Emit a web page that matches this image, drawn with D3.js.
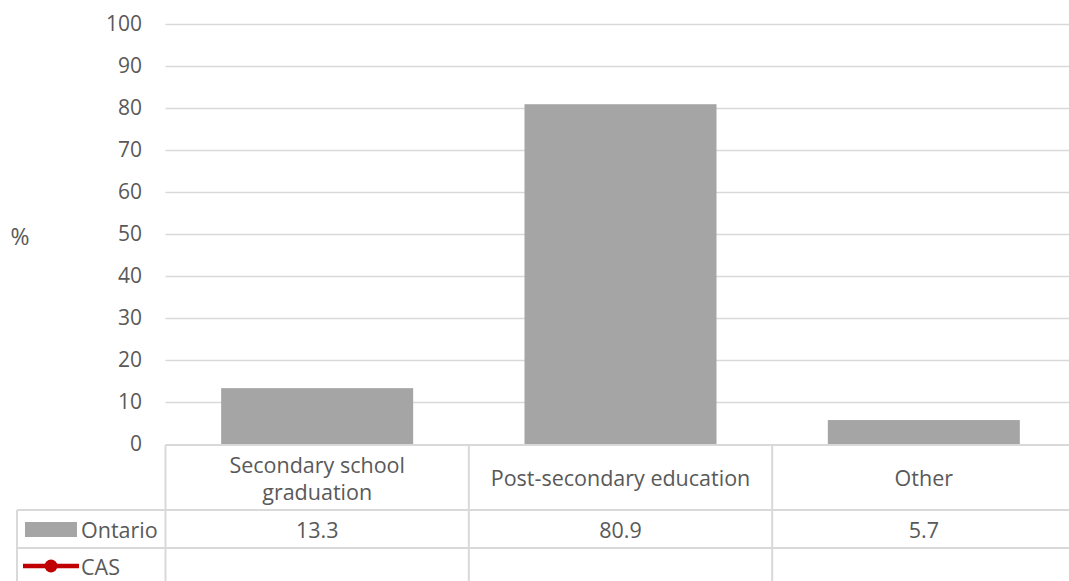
<!DOCTYPE html>
<html><head><meta charset="utf-8">
<script src="https://cdn.jsdelivr.net/npm/d3@7"></script>
<style>
html,body{margin:0;padding:0;background:#fff;}
svg{display:block;}
text{font-family:"Open Sans",sans-serif;fill:#595959;}
</style></head>
<body>
<svg id="chart" width="1069" height="581"></svg>
<script>
const categories = [["Secondary school","graduation"],["Post-secondary education"],["Other"]];
const categoryKeys = ["Secondary school graduation","Post-secondary education","Other"];
const ontarioValues = [13.3, 80.9, 5.7];
const casValues = [null, null, null];
const seriesNames = ["Ontario","CAS"];
const yTicks = [0,10,20,30,40,50,60,70,80,90,100];
const yLabel = "%";

const svg = d3.select("#chart");
const FS = 21.5;
const grid = "#d9d9d9";
const plotL = 165.5, plotR = 1075.5, tableL = 17;
const y = d3.scaleLinear().domain([0,100]).range([444,24]);
const col = d3.scaleBand().domain(categoryKeys).range([plotL, plotR]).padding(0);
const x = d3.scaleBand().domain(categoryKeys).range([plotL, plotR]).paddingInner(0.367).paddingOuter(0.1835);

// gridlines
svg.append("g").selectAll("line").data(yTicks.filter(d=>d>0)).join("line")
  .attr("x1", plotL).attr("x2", plotR)
  .attr("y1", d=>Math.round(y(d))+0.5).attr("y2", d=>Math.round(y(d))+0.5)
  .attr("stroke", grid).attr("stroke-width", 1.4);

// y axis labels
const yAxis = d3.axisLeft(y).tickValues(yTicks).tickSize(0).tickPadding(0);
const ga = svg.append("g").attr("transform", "translate(142,0)").call(yAxis);
ga.attr("font-size", 21).attr("font-family","Open Sans, sans-serif");
ga.select(".domain").remove();
ga.selectAll("text").attr("font-size", 21).style("fill","#595959");

svg.append("text").attr("x", 20).attr("y", 236).attr("text-anchor","middle")
  .attr("dominant-baseline","central").attr("font-size", 23).text(yLabel);

// bars
svg.append("g").selectAll("rect").data(ontarioValues).join("rect")
  .attr("x", (d,i)=>x(categoryKeys[i])).attr("width", x.bandwidth())
  .attr("y", d=>y(d)).attr("height", d=>y(0)-y(d))
  .attr("fill", "#a5a5a5");

// table
const rowTop = 445, row1 = 510, row2 = 548, row3 = 586;
const tg = svg.append("g").attr("stroke", grid).attr("stroke-width", 2);
tg.append("line").attr("x1", plotL).attr("x2", plotR).attr("y1", rowTop).attr("y2", rowTop);
[row1,row2,row3].forEach(yy=>tg.append("line").attr("x1", tableL).attr("x2", plotR).attr("y1", yy).attr("y2", yy));
tg.append("line").attr("x1", tableL).attr("x2", tableL).attr("y1", row1).attr("y2", row3);
[...categoryKeys.map(k=>col(k)), plotR].forEach(xx=>tg.append("line").attr("x1", xx).attr("x2", xx).attr("y1", rowTop).attr("y2", row3));

// header labels
categories.forEach((lines,i)=>{
  const cx = col(categoryKeys[i]) + col.bandwidth()/2;
  const mid = (rowTop+row1)/2;
  const lh = 27;
  lines.forEach((t,j)=>{
    svg.append("text").attr("x", cx).attr("y", mid + (j - (lines.length-1)/2)*lh)
      .attr("text-anchor","middle").attr("dominant-baseline","central")
      .attr("font-size", FS).text(t);
  });
});
// values row
ontarioValues.forEach((v,i)=>{
  svg.append("text").attr("x", col(categoryKeys[i]) + col.bandwidth()/2).attr("y", (row1+row2)/2)
    .attr("text-anchor","middle").attr("dominant-baseline","central")
    .attr("font-size", FS).text(v.toFixed(1));
});
// legend keys
svg.append("rect").attr("x", 25).attr("y", 522).attr("width", 52).attr("height", 15).attr("fill", "#a5a5a5");
svg.append("text").attr("x", 81).attr("y", (row1+row2)/2).attr("dominant-baseline","central").attr("font-size", FS).text(seriesNames[0]);
svg.append("line").attr("x1", 23).attr("x2", 79).attr("y1", 566).attr("y2", 566).attr("stroke", "#c00000").attr("stroke-width", 4.5);
svg.append("circle").attr("cx", 51).attr("cy", 566).attr("r", 6.5).attr("fill", "#c00000");
svg.append("text").attr("x", 81).attr("y", 566).attr("dominant-baseline","central").attr("font-size", FS).text(seriesNames[1]);
</script>
</body></html>
